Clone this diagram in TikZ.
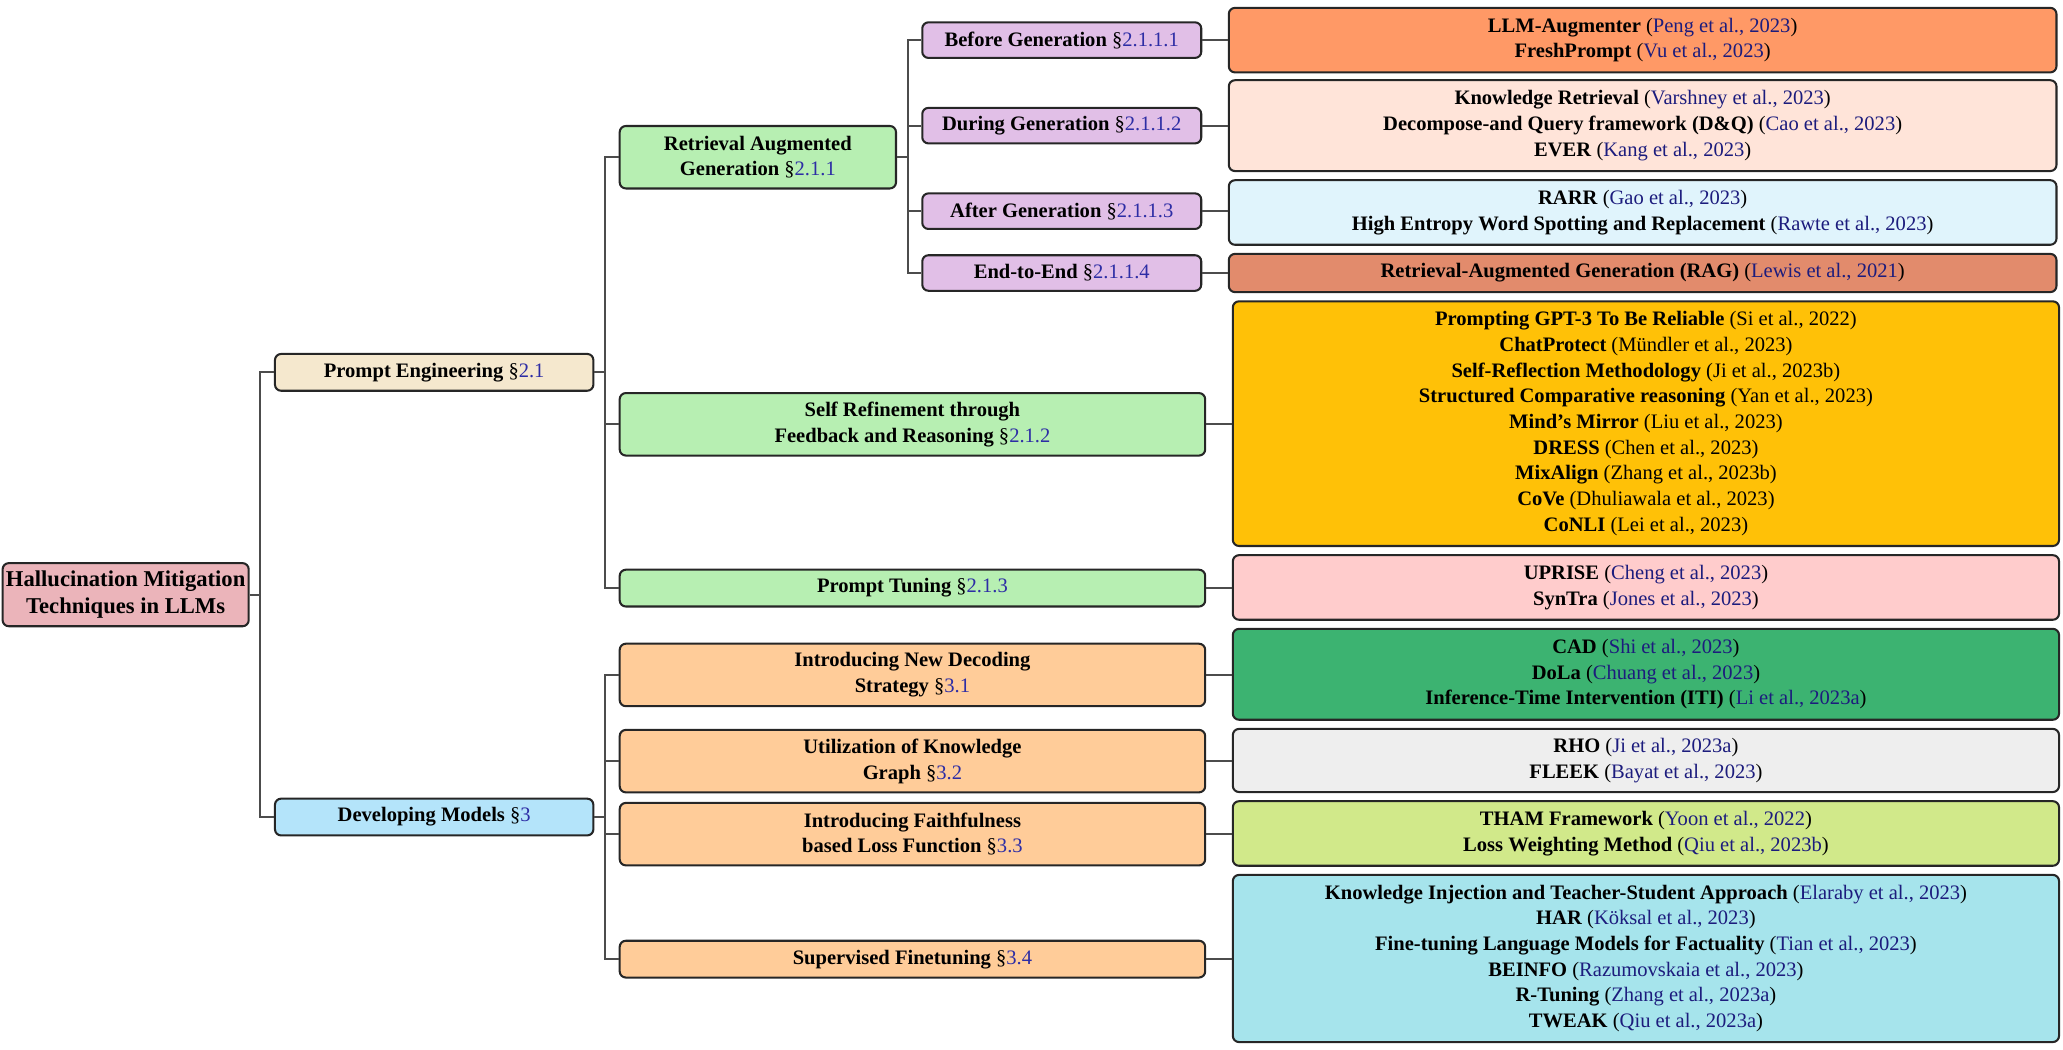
\documentclass[tikz,border=0pt]{standalone}
\usepackage{fontspec}
\setmainfont{Liberation Serif}
\usetikzlibrary{positioning}

\definecolor{citeblue}{RGB}{28,28,125}
\definecolor{secblue}{RGB}{45,45,165}
\definecolor{rootpink}{RGB}{235,180,186}
\definecolor{pecream}{RGB}{245,232,206}
\definecolor{devblue}{RGB}{180,228,250}
\definecolor{subgreen}{RGB}{183,239,178}
\definecolor{genlilac}{RGB}{225,191,231}
\definecolor{devpeach}{RGB}{255,204,153}
\definecolor{lfbefore}{RGB}{255,153,102}
\definecolor{lfduring}{RGB}{255,228,217}
\definecolor{lfafter}{RGB}{224,244,252}
\definecolor{lfend}{RGB}{226,139,108}
\definecolor{lfself}{RGB}{255,193,7}
\definecolor{lftuning}{RGB}{255,204,204}
\definecolor{lfdecode}{RGB}{60,179,113}
\definecolor{lfgraph}{RGB}{238,238,238}
\definecolor{lfloss}{RGB}{209,233,138}
\definecolor{lffine}{RGB}{166,228,236}

\newcommand{\sect}[1]{\textmd{\S\textcolor{secblue}{#1}}}
\newcommand{\paper}[2]{#1 \textmd{(\textcolor{citeblue}{#2})}}
\newcommand{\paperk}[2]{#1 \textmd{(#2)}}

\begin{document}
\begin{tikzpicture}[
        x=0.64pt, y=-0.64pt,
        box/.style={draw=black!85, line width=1pt, rounded corners=3pt, align=center, inner sep=0pt,
                    font=\fontsize{10}{12.5}\selectfont\bfseries}, % all boxes
        lvone/.style={box, minimum width=154.9pt, minimum height=17.9pt},
        subbox/.style={box, fill=subgreen, minimum height=30.4pt},
        devbox/.style={box, fill=devpeach, minimum width=284.8pt, minimum height=30.4pt},
        genbox/.style={box, fill=genlilac, minimum width=135.7pt, minimum height=17.3pt},
        ragleaf/.style={box, minimum width=402.6pt},
        leaf/.style={box, minimum width=401.9pt},
        link/.style={draw=black!70, line width=1pt}
        ]
        \useasboundingbox (0,0) rectangle (1568,798);

        % root and first level
        \node[box, fill=rootpink, minimum width=119.7pt, minimum height=30.7pt,
              font=\fontsize{11}{12.8}\selectfont\bfseries] (root) at (95.5,452)
            {Hallucination Mitigation\\Techniques in LLMs};
        \node[lvone, fill=pecream] (pe) at (330,283) {Prompt Engineering \sect{2.1}};
        \node[lvone, fill=devblue] (dev) at (330,621) {Developing Models \sect{3}};

        % prompt engineering branch
        \node[subbox, minimum width=134.4pt] (rag) at (576,119.5) {Retrieval Augmented\\Generation \sect{2.1.1}};
        \node[subbox, minimum width=284.8pt] (sr) at (693.5,322.5) {Self Refinement through\\Feedback and Reasoning \sect{2.1.2}};
        \node[subbox, minimum width=284.8pt, minimum height=17.9pt] (pt) at (693.5,447) {Prompt Tuning \sect{2.1.3}};

        \node[genbox] (bg) at (807,30.5) {Before Generation \sect{2.1.1.1}};
        \node[genbox] (dg) at (807,95.5) {During Generation \sect{2.1.1.2}};
        \node[genbox] (ag) at (807,160.5) {After Generation \sect{2.1.1.3}};
        \node[genbox] (ee) at (807,207.5) {End-to-End \sect{2.1.1.4}};

        \node[ragleaf, fill=lfbefore, minimum height=31.4pt] (bgl) at (1248.5,30.5)
            {\paper{LLM-Augmenter}{Peng et al., 2023}\\
             \paper{FreshPrompt}{Vu et al., 2023}};
        \node[ragleaf, fill=lfduring, minimum height=44.2pt] (dgl) at (1248.5,95.5)
            {\paper{Knowledge Retrieval}{Varshney et al., 2023}\\
             \paper{Decompose-and Query framework (D\&Q)}{Cao et al., 2023}\\
             \paper{EVER}{Kang et al., 2023}};
        \node[ragleaf, fill=lfafter, minimum height=31.4pt] (agl) at (1248.5,161.5)
            {\paper{RARR}{Gao et al., 2023}\\
             \paper{High Entropy Word Spotting and Replacement}{Rawte et al., 2023}};
        \node[ragleaf, fill=lfend, minimum height=18.6pt] (eel) at (1248.5,207.5)
            {\paper{Retrieval-Augmented Generation (RAG)}{Lewis et al., 2021}};

        \node[leaf, fill=lfself, minimum height=119pt] (srl) at (1251,322)
            {\paperk{Prompting GPT-3 To Be Reliable}{Si et al., 2022}\\
             \paperk{ChatProtect}{Mündler et al., 2023}\\
             \paperk{Self-Reflection Methodology}{Ji et al., 2023b}\\
             \paperk{Structured Comparative reasoning}{Yan et al., 2023}\\
             \paperk{Mind’s Mirror}{Liu et al., 2023}\\
             \paperk{DRESS}{Chen et al., 2023}\\
             \paperk{MixAlign}{Zhang et al., 2023b}\\
             \paperk{CoVe}{Dhuliawala et al., 2023}\\
             \paperk{CoNLI}{Lei et al., 2023}};
        \node[leaf, fill=lftuning, minimum height=31.4pt] (ptl) at (1251,446.5)
            {\paper{UPRISE}{Cheng et al., 2023}\\
             \paper{SynTra}{Jones et al., 2023}};

        % developing models branch
        \node[devbox] (nd) at (693.5,513) {Introducing New Decoding\\Strategy \sect{3.1}};
        \node[devbox] (kg) at (693.5,578.5) {Utilization of Knowledge\\Graph \sect{3.2}};
        \node[devbox] (fl) at (693.5,634) {Introducing Faithfulness\\based Loss Function \sect{3.3}};
        \node[devbox, minimum height=17.9pt] (sf) at (693.5,729) {Supervised Finetuning \sect{3.4}};

        \node[leaf, fill=lfdecode, minimum height=44.2pt] (ndl) at (1251,512.5)
            {\paper{CAD}{Shi et al., 2023}\\
             \paper{DoLa}{Chuang et al., 2023}\\
             \paper{Inference-Time Intervention (ITI)}{Li et al., 2023a}};
        \node[leaf, fill=lfgraph, minimum height=30.7pt] (kgl) at (1251,578)
            {\paper{RHO}{Ji et al., 2023a}\\
             \paper{FLEEK}{Bayat et al., 2023}};
        \node[leaf, fill=lfloss, minimum height=31.4pt] (fll) at (1251,633.5)
            {\paper{THAM Framework}{Yoon et al., 2022}\\
             \paper{Loss Weighting Method}{Qiu et al., 2023b}};
        \node[leaf, fill=lffine, minimum height=81.3pt] (sfl) at (1251,728.5)
            {\paper{Knowledge Injection and Teacher-Student Approach}{Elaraby et al., 2023}\\
             \paper{HAR}{Köksal et al., 2023}\\
             \paper{Fine-tuning Language Models for Factuality}{Tian et al., 2023}\\
             \paper{BEINFO}{Razumovskaia et al., 2023}\\
             \paper{R-Tuning}{Zhang et al., 2023a}\\
             \paper{TWEAK}{Qiu et al., 2023a}};

        % forks
        \draw[link] (root.east) -- ++(8,0) |- (pe.west);
        \draw[link] (root.east) -- ++(8,0) |- (dev.west);
        \draw[link] (pe.east) -- ++(8,0) |- (rag.west);
        \draw[link] (pe.east) -- ++(8,0) |- (sr.west);
        \draw[link] (pe.east) -- ++(8,0) |- (pt.west);
        \draw[link] (rag.east) -- ++(8,0) |- (bg.west);
        \draw[link] (rag.east) -- ++(8,0) |- (dg.west);
        \draw[link] (rag.east) -- ++(8,0) |- (ag.west);
        \draw[link] (rag.east) -- ++(8,0) |- (ee.west);
        \draw[link] (dev.east) -- ++(8,0) |- (nd.west);
        \draw[link] (dev.east) -- ++(8,0) |- (kg.west);
        \draw[link] (dev.east) -- ++(8,0) |- (fl.west);
        \draw[link] (dev.east) -- ++(8,0) |- (sf.west);

        % leaves
        \draw[link] (bg.east) -- (bg.east -| bgl.west);
        \draw[link] (dg.east) -- (dg.east -| dgl.west);
        \draw[link] (ag.east) -- (ag.east -| agl.west);
        \draw[link] (ee.east) -- (ee.east -| eel.west);
        \draw[link] (sr.east) -- (sr.east -| srl.west);
        \draw[link] (pt.east) -- (pt.east -| ptl.west);
        \draw[link] (nd.east) -- (nd.east -| ndl.west);
        \draw[link] (kg.east) -- (kg.east -| kgl.west);
        \draw[link] (fl.east) -- (fl.east -| fll.west);
        \draw[link] (sf.east) -- (sf.east -| sfl.west);
\end{tikzpicture}
\end{document}
